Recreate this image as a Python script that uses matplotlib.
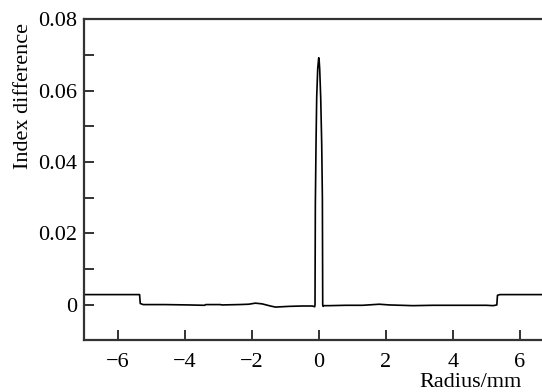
import numpy as np
import matplotlib
matplotlib.use("Agg")
import matplotlib.pyplot as plt
from matplotlib.ticker import MultipleLocator

# values
radius = [-7.05, -5.36, -5.34, -5.25, -4.6, -3.9, -3.42, -3.38, -2.95, -2.9,
          -2.4, -2.1, -1.9, -1.7, -1.45, -1.3, -0.9, -0.5, -0.2, -0.13,
          -0.12, -0.11, -0.09, -0.07, -0.04, -0.01, 0.0, 0.02, 0.05, 0.08,
          0.10, 0.11, 0.12, 0.15, 0.3, 0.8, 1.3, 1.8, 2.1, 2.8,
          3.4, 4.0, 4.6, 5.0, 5.2, 5.31, 5.33, 5.4, 6.8]
index_diff = [0.0028, 0.0028, 0.0003, 0.0, 0.0, -0.0001, -0.0002, 0.0, 0.0, -0.0001,
              0.0, 0.0001, 0.0004, 0.0002, -0.0004, -0.0007, -0.0005, -0.0004, -0.0004, -0.0006,
              0.0, 0.028, 0.045, 0.058, 0.066, 0.0692, 0.069, 0.066, 0.058, 0.045,
              0.030, 0.0, -0.0005, -0.0003, -0.0003, -0.0002, -0.0002, 0.0001, -0.0001, -0.0003,
              -0.0002, -0.0002, -0.0002, -0.0002, -0.0003, -0.0001, 0.0026, 0.0028, 0.0028]

xticks = [-6, -4, -2, 0, 2, 4, 6]
xticklabels = ["\u22126", "\u22124", "\u22122", "0", "2", "4", "6"]
yticks = [0, 0.02, 0.04, 0.06, 0.08]
yticklabels = ["0", "0.02", "0.04", "0.06", "0.08"]

plt.rcParams['font.family'] = ['Liberation Serif', 'DejaVu Serif']
plt.rcParams['font.size'] = 16

fig = plt.figure(figsize=(5.42, 3.92), dpi=100)
ax = fig.add_axes([0.155, 0.132, 0.845, 0.819])

ax.plot(radius, index_diff, color='black', lw=1.2)

ax.set_xlim(-7.02, 6.66)
ax.set_ylim(-0.01, 0.08)

ax.set_xticks(xticks)
ax.set_xticklabels(xticklabels)
ax.set_yticks(yticks)
ax.set_yticklabels(yticklabels)
ax.yaxis.set_minor_locator(MultipleLocator(0.01))

spine_col = '#333333'
for side in ['left', 'bottom', 'top']:
    ax.spines[side].set_linewidth(1.6)
    ax.spines[side].set_color(spine_col)
ax.spines['right'].set_visible(False)

ax.tick_params(axis='both', which='both', direction='in', color=spine_col, width=1.4, length=7)
ax.tick_params(axis='x', pad=9, top=False)
ax.tick_params(axis='y', pad=5, right=False)
ax.tick_params(axis='y', which='minor', length=7)

fig.text(0.043, 0.755, "Index difference", rotation=90, ha='center', va='center')
fig.text(0.962, 0.023, "Radius/mm", ha='right', va='center')

fig.savefig("out.png", dpi=100)
